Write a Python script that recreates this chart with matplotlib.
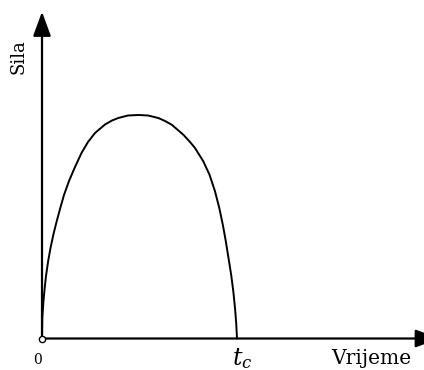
import matplotlib
matplotlib.use("Agg")
import matplotlib.pyplot as plt

# force curve (time in units of t_c, force in units of peak)
t_vals = [0, 0.0015, 0.0067, 0.0128, 0.0205, 0.0308, 0.0436, 0.0590, 0.0744,
          0.0923, 0.1128, 0.1385, 0.1692, 0.2026, 0.2359, 0.2718, 0.3231,
          0.3590, 0.3913, 0.4410, 0.4938, 0.5436, 0.5964, 0.6308, 0.6651,
          0.7246, 0.7590, 0.7846, 0.8272, 0.8590, 0.8872, 0.9092, 0.9272,
          0.9415, 0.9564, 0.9703, 0.9815, 0.9897, 0.9959, 1.0]
f_vals = [0, 0.0917, 0.1588, 0.2170, 0.2796, 0.3423, 0.4049, 0.4676, 0.5213,
          0.5794, 0.6421, 0.7047, 0.7673, 0.8300, 0.8792, 0.9195, 0.9575,
          0.9754, 0.9866, 0.9978, 1.0, 0.9978, 0.9866, 0.9732, 0.9566,
          0.9119, 0.8792, 0.8523, 0.7928, 0.7329, 0.6586, 0.5839, 0.5092,
          0.4407, 0.3602, 0.2841, 0.2081, 0.1365, 0.0694, 0]

x_label = "Vrijeme"
y_label = "Sila"
origin_label = "0"
tc_label = r"$t_c$"

plt.rcParams["mathtext.fontset"] = "dejavuserif"

fig = plt.figure(figsize=(4.24, 3.70), dpi=100)
ax = fig.add_axes([0, 0, 1, 1])
ax.set_xlim(-0.2154, 1.959)
ax.set_ylim(-0.1409, 1.5145)
ax.axis("off")

# axes with arrow heads
arrow = dict(arrowstyle="-|>,head_length=1.5,head_width=0.55", lw=1.6,
             color="black", shrinkA=0, shrinkB=0, mutation_scale=10)
ax.annotate("", xy=(0, 1.462), xytext=(0, 0), arrowprops=arrow,
            annotation_clip=False)
ax.annotate("", xy=(2.04, 0), xytext=(0, 0), arrowprops=arrow,
            annotation_clip=False)

ax.plot(t_vals, f_vals, color="black", lw=1.4, solid_joinstyle="round",
        solid_capstyle="round")
ax.plot([0], [0], marker="o", ms=4.5, mfc="white", mec="black", mew=1.0,
        zorder=5)

ax.text(-0.0256, -0.096, origin_label, family="DejaVu Serif", fontsize=10,
        ha="center", va="center")
ax.text(-0.118, 1.26, y_label, family="DejaVu Serif", fontsize=13,
        rotation=90, ha="center", va="center")
ax.text(1.687, -0.114, x_label, family="DejaVu Serif", fontsize=14.5,
        ha="center", va="baseline")
ax.text(0.972, -0.118, tc_label, fontsize=17, ha="left", va="baseline")

fig.savefig("out.png", dpi=100)
